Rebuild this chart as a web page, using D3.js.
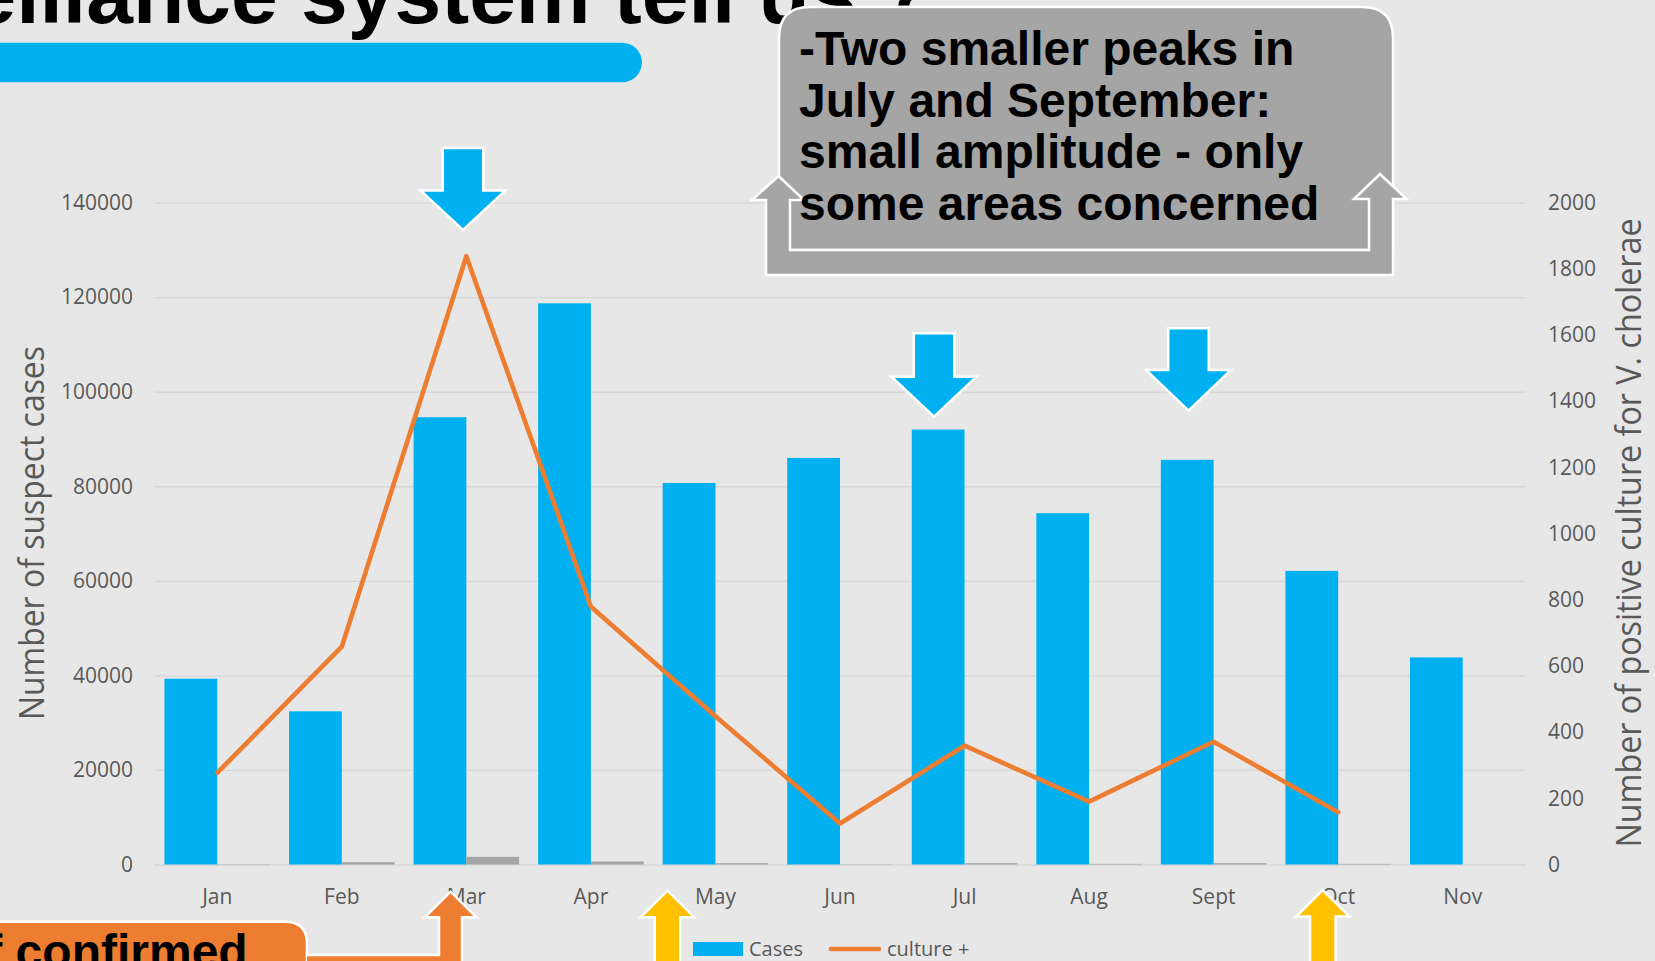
<!DOCTYPE html>
<html><head><meta charset="utf-8">
<script src="https://cdn.jsdelivr.net/npm/d3@7/dist/d3.min.js"></script>
<style>
html,body{margin:0;padding:0;background:#E7E7E7;overflow:hidden}
svg{display:block}
</style></head>
<body>
<svg id="chart" width="1655" height="961"></svg>
<script>
// ---- data ----
const months = ["Jan","Feb","Mar","Apr","May","Jun","Jul","Aug","Sept","Oct","Nov"];
const cases = [39300, 32400, 94600, 118700, 80700, 86000, 92000, 74300, 85600, 62100, 43800];
const secondBars = [70, 500, 1620, 640, 280, 60, 280, 130, 280, 130, 0];
const culturePos = [277, 658, 1838, 779, 448, 124, 359, 190, 371, 158, null];
const leftTicks = [0, 20000, 40000, 60000, 80000, 100000, 120000, 140000];
const rightTicks = [0, 200, 400, 600, 800, 1000, 1200, 1400, 1600, 1800, 2000];
const legendLabels = ["Cases", "culture +"];
const titleText = "What does the surveillance system tell us ?";
const calloutLines = ["-Two smaller peaks in", "July and September:", "small amplitude - only", "some areas concerned"];
const orangeCallout = "Peak of confirmed";
const leftTitle = "Number of suspect cases";
const rightTitle = "Number of positive culture for V. cholerae";

// ---- layout ----
const svg = d3.select("#chart");
const W = 1655, H = 961;
const plot = {left: 155, right: 1525, top: 202.6, bottom: 864.5};
const C = {blue: "#00B0F0", gray: "#A5A5A5", orange: "#ED7D31", yellow: "#FFC000", text: "#595959", grid: "#D6D6D6", bg: "#E7E7E7"};
const chartFont = "'Open Sans', 'DejaVu Sans', sans-serif";
const boldFont = "'Liberation Sans', Arial, sans-serif";

svg.append("rect").attr("width", W).attr("height", H).attr("fill", C.bg);

// title (partly off-canvas)
const title = svg.append("text").attr("font-family", boldFont).attr("font-weight", "bold")
  .attr("font-size", 84).attr("fill", "#000").attr("y", 23).text(titleText);
const meas = svg.append("text").attr("font-family", boldFont).attr("font-weight", "bold")
  .attr("font-size", 84).text("system tell us ?");
const prefixW = title.node().getComputedTextLength() - meas.node().getComputedTextLength();
meas.remove();
title.attr("x", 301 - prefixW);

// blue pill
svg.append("rect").attr("x", -40).attr("y", 42.7).attr("width", 682).attr("height", 39.6)
  .attr("rx", 19.8).attr("fill", C.blue);

// scales
const x0 = d3.scaleBand().domain(months).range([plot.left, plot.right]).padding(0);
const x1 = d3.scaleBand().domain(["cases", "second"]).range([0, x0.bandwidth()]).paddingInner(0).paddingOuter(0.18);
const yL = d3.scaleLinear().domain([0, 140000]).range([plot.bottom, plot.top]);
const yR = d3.scaleLinear().domain([0, 2000]).range([plot.bottom, plot.top]);

// gridlines
const g = svg.append("g");
g.append("g").attr("transform", `translate(${plot.left},0)`)
  .call(d3.axisLeft(yL).tickValues(leftTicks).tickSize(-(plot.right - plot.left)).tickFormat(""))
  .call(s => s.select(".domain").remove())
  .call(s => s.selectAll("line").attr("stroke", C.grid).attr("stroke-width", 1.3));

// bars
const rows = months.map((m, i) => ({m, cases: cases[i], second: secondBars[i], cult: culturePos[i]}));
g.append("g").selectAll("rect").data(rows).join("rect")
  .attr("x", d => x0(d.m) + x1("cases")).attr("width", x1.bandwidth())
  .attr("y", d => yL(d.cases)).attr("height", d => yL(0) - yL(d.cases)).attr("fill", C.blue);
g.append("g").selectAll("rect").data(rows).join("rect")
  .attr("x", d => x0(d.m) + x1("second")).attr("width", x1.bandwidth())
  .attr("y", d => yL(d.second)).attr("height", d => yL(0) - yL(d.second)).attr("fill", C.gray);

// line
const line = d3.line().defined(d => d.cult != null)
  .x(d => x0(d.m) + x0.bandwidth() / 2).y(d => yR(d.cult));
g.append("path").datum(rows).attr("d", line).attr("fill", "none")
  .attr("stroke", C.orange).attr("stroke-width", 4.6).attr("stroke-linejoin", "round").attr("stroke-linecap", "round");

// axes labels
const axL = g.append("g").attr("transform", `translate(133,0)`)
  .call(d3.axisLeft(yL).tickValues(leftTicks).tickSize(0).tickPadding(0).tickFormat(d3.format("d")));
const axR = g.append("g").attr("transform", `translate(1548,0)`)
  .call(d3.axisRight(yR).tickValues(rightTicks).tickSize(0).tickPadding(0).tickFormat(d3.format("d")));
const axB = g.append("g").attr("transform", `translate(0,896)`)
  .call(d3.axisBottom(x0).tickSize(0).tickPadding(0));
[axL, axR, axB].forEach(a => {
  a.select(".domain").remove();
  a.selectAll("text").attr("font-family", chartFont).attr("font-size", 21).attr("fill", C.text);
});
axB.selectAll("text").attr("dy", null).attr("dominant-baseline", "central");

// axis titles
svg.append("text").attr("transform", "translate(44,533) rotate(-90)")
  .attr("text-anchor", "middle").attr("font-family", chartFont).attr("font-size", 34)
  .attr("fill", C.text).attr("textLength", 374).attr("lengthAdjust", "spacingAndGlyphs").text(leftTitle);
svg.append("text").attr("transform", "translate(1641,533) rotate(-90)")
  .attr("text-anchor", "middle").attr("font-family", chartFont).attr("font-size", 34)
  .attr("fill", C.text).attr("textLength", 629).attr("lengthAdjust", "spacingAndGlyphs").text(rightTitle);

// legend
const lg = svg.append("g");
lg.append("rect").attr("x", 693).attr("y", 942).attr("width", 50).attr("height", 14).attr("fill", C.blue);
lg.append("text").attr("x", 749).attr("y", 948).attr("dominant-baseline", "central")
  .attr("font-family", chartFont).attr("font-size", 20).attr("fill", C.text).text(legendLabels[0]);
lg.append("line").attr("x1", 831).attr("x2", 879).attr("y1", 949).attr("y2", 949)
  .attr("stroke", C.orange).attr("stroke-width", 4.6).attr("stroke-linecap", "round");
lg.append("text").attr("x", 887).attr("y", 948).attr("dominant-baseline", "central")
  .attr("font-family", chartFont).attr("font-size", 20).attr("fill", C.text).text(legendLabels[1]);

// ---- annotations ----
function downArrow(cx, tipY, shaftW, headW, headH, totalH) {
  const top = tipY - totalH, base = tipY - headH;
  return `M${cx - shaftW/2},${top} L${cx + shaftW/2},${top} L${cx + shaftW/2},${base} L${cx + headW/2},${base} L${cx},${tipY} L${cx - headW/2},${base} L${cx - shaftW/2},${base} Z`;
}
function upArrow(cx, tipY, shaftW, headW, headH, bottom) {
  const base = tipY + headH;
  return `M${cx},${tipY} L${cx + headW/2},${base} L${cx + shaftW/2},${base} L${cx + shaftW/2},${bottom} L${cx - shaftW/2},${bottom} L${cx - shaftW/2},${base} L${cx - headW/2},${base} Z`;
}
const downArrows = [
  {cx: 463, tip: 230, total: 82, head: 39.5},
  {cx: 934, tip: 416.7, total: 83.4, head: 40},
  {cx: 1188.5, tip: 410.7, total: 82.4, head: 40.7}
];
svg.append("g").selectAll("path").data(downArrows).join("path")
  .attr("d", d => downArrow(d.cx, d.tip, 40.5, 85, d.head, d.total))
  .attr("fill", C.blue).attr("stroke", "#fff").attr("stroke-width", 2.5);

// gray callout box + U arrow
svg.append("path")
  .attr("d", "M779,250 L779,38 Q779,7 810,7 L1362,7 Q1393,7 1393,38 L1393,250 Z")
  .attr("fill", C.gray).attr("stroke", "#fff").attr("stroke-width", 2.5);
svg.append("path")
  .attr("d", "M778.5,176 L804,200 L790,200 L790,250 L1369,250 L1369,199 L1354,199 L1380,174 L1406.5,199 L1393,199 L1393,275 L766,275 L766,200 L752,200 Z")
  .attr("fill", C.gray).attr("stroke", "#fff").attr("stroke-width", 2.5).attr("stroke-linejoin", "miter");
svg.append("g").selectAll("text").data(calloutLines).join("text")
  .attr("x", 799).attr("y", (d, i) => 65 + i * 51.7)
  .attr("font-family", boldFont).attr("font-weight", "bold").attr("font-size", 48).attr("fill", "#000")
  .text(d => d);

// orange callout
svg.append("path").attr("d", "M-20,921.7 L285,921.7 Q307,921.7 307,944 L307,1000 L-20,1000 Z")
  .attr("fill", C.orange).attr("stroke", "#fff").attr("stroke-width", 2.5);
const oc = svg.append("text").attr("y", 968).attr("font-family", boldFont).attr("font-weight", "bold")
  .attr("font-size", 48).attr("fill", "#000").text(orangeCallout);
const m2 = svg.append("text").attr("font-family", boldFont).attr("font-weight", "bold").attr("font-size", 48).text("confirmed");
const pre2 = oc.node().getComputedTextLength() - m2.node().getComputedTextLength();
m2.remove();
oc.attr("x", 15.6 - pre2);

// orange bent arrow
svg.append("path")
  .attr("d", "M307,955 L439,955 L439,917.3 L424.8,917.3 L450.6,891.7 L476.5,917.3 L462,917.3 L462,1000 L307,1000")
  .attr("fill", C.orange).attr("stroke", "#fff").attr("stroke-width", 2.5);

// yellow up arrows
const upArrows = [{cx: 667.5, tip: 890.7}, {cx: 1322.8, tip: 890}];
svg.append("g").selectAll("path").data(upArrows).join("path")
  .attr("d", d => upArrow(d.cx, d.tip, 25.5, 53.5, 26.5, 1000))
  .attr("fill", C.yellow).attr("stroke", "#fff").attr("stroke-width", 2.5);
</script>
</body></html>
